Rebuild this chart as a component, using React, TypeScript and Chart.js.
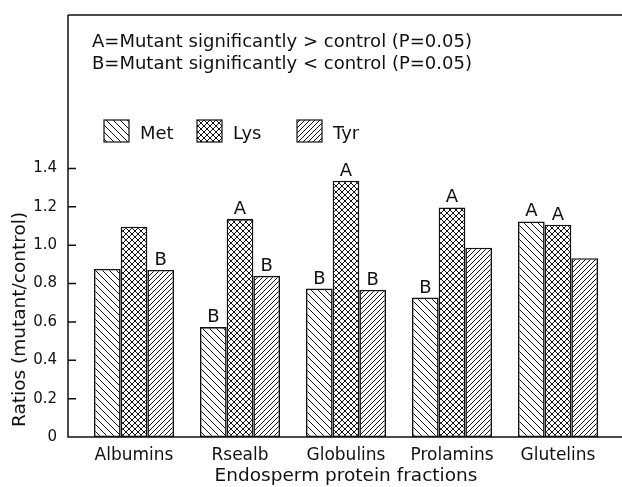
import React, { useEffect, useRef } from 'react';
import { Chart, registerables } from 'chart.js';

Chart.register(...registerables);

const categories = ['Albumins', 'Rsealb', 'Globulins', 'Prolamins', 'Glutelins'];
const seriesNames = ['Met', 'Lys', 'Tyr'];
const metValues = [0.876, 0.573, 0.774, 0.727, 1.124];
const lysValues = [1.096, 1.136, 1.336, 1.197, 1.107];
const tyrValues = [0.871, 0.84, 0.767, 0.987, 0.932];
const metMarks = ['', 'B', 'B', 'B', 'A'];
const lysMarks = ['', 'A', 'A', 'A', 'A'];
const tyrMarks = ['B', 'B', 'B', '', ''];
const yTickValues = [0, 0.2, 0.4, 0.6, 0.8, 1.0, 1.2, 1.4];
const noteLines = [
  'A=Mutant significantly > control (P=0.05)',
  'B=Mutant significantly < control (P=0.05)',
];
const xTitle = 'Endosperm protein fractions';
const yTitle = 'Ratios (mutant/control)';

const FONT = "'DejaVu Sans', 'Liberation Sans', sans-serif";

function makePattern(kind: 'back' | 'fwd' | 'cross', s: number): CanvasPattern | string {
  const c = document.createElement('canvas');
  c.width = s;
  c.height = s;
  const g = c.getContext('2d');
  if (!g) return '#fff';
  g.fillStyle = '#fff';
  g.fillRect(0, 0, s, s);
  g.strokeStyle = '#111';
  g.lineWidth = 1;
  g.beginPath();
  for (let k = -1; k <= 1; k++) {
    if (kind === 'back' || kind === 'cross') {
      g.moveTo(0, k * s);
      g.lineTo(s, s + k * s);
    }
    if (kind === 'fwd' || kind === 'cross') {
      g.moveTo(0, s + k * s);
      g.lineTo(s, k * s);
    }
  }
  g.stroke();
  const p = g.createPattern(c, 'repeat');
  return p || '#fff';
}

export default function App() {
  const ref = useRef<HTMLCanvasElement | null>(null);

  useEffect(() => {
    document.body.style.margin = '0';
    const canvas = ref.current;
    if (!canvas) return;
    const patterns = [makePattern('back', 7), makePattern('cross', 6), makePattern('fwd', 5)];
    const values = [metValues, lysValues, tyrValues];
    const marks = [metMarks, lysMarks, tyrMarks];

    const overlay = {
      id: 'overlay',
      afterDraw(chart: any) {
        const { ctx, chartArea } = chart;
        const yScale = chart.scales.y;
        const axX = chartArea.left - 13;
        const top = chartArea.top;
        const base = yScale.getPixelForValue(0);
        const right = chart.width;
        ctx.save();
        ctx.strokeStyle = '#111';
        ctx.lineWidth = 1.5;
        ctx.beginPath();
        ctx.moveTo(axX, top);
        ctx.lineTo(right, top);
        ctx.moveTo(axX, top);
        ctx.lineTo(axX, base);
        ctx.lineTo(right, base);
        for (const v of yTickValues) {
          const py = yScale.getPixelForValue(v);
          ctx.moveTo(axX, py);
          ctx.lineTo(axX + 8, py);
        }
        ctx.stroke();

        // significance marks
        ctx.fillStyle = '#111';
        ctx.font = `18px ${FONT}`;
        ctx.textAlign = 'center';
        ctx.textBaseline = 'alphabetic';
        chart.data.datasets.forEach((_ds: any, i: number) => {
          const meta = chart.getDatasetMeta(i);
          meta.data.forEach((bar: any, j: number) => {
            const m = marks[i][j];
            if (!m) return;
            ctx.fillText(m, bar.x, bar.y - 5);
          });
        });

        // notes
        ctx.textAlign = 'left';
        ctx.font = `18px ${FONT}`;
        noteLines.forEach((t, k) => {
          ctx.fillText(t, axX + 24, top + 32 + k * 22);
        });

        // legend
        const legX = [axX + 36, axX + 129, axX + 229];
        const boxTop = top + 105;
        seriesNames.forEach((name, i) => {
          ctx.fillStyle = patterns[i] as any;
          ctx.fillRect(legX[i], boxTop, 25, 22);
          ctx.lineWidth = 1.2;
          ctx.strokeRect(legX[i], boxTop, 25, 22);
          ctx.fillStyle = '#111';
          ctx.fillText(name, legX[i] + 36, boxTop + 19);
        });

        // y axis title
        ctx.save();
        ctx.translate(axX - 48, base - 10);
        ctx.rotate(-Math.PI / 2);
        ctx.textAlign = 'left';
        ctx.textBaseline = 'middle';
        ctx.font = `18.5px ${FONT}`;
        ctx.fillText(yTitle, 0, 0);
        ctx.restore();

        ctx.restore();
      },
    };

    const chart = new Chart(canvas, {
      type: 'bar',
      data: {
        labels: categories,
        datasets: seriesNames.map((name, i) => ({
          label: name,
          data: values[i],
          backgroundColor: patterns[i] as any,
          borderColor: '#111',
          borderWidth: 1.6,
          borderSkipped: false,
          barPercentage: 1,
          categoryPercentage: 0.755,
        })),
      },
      options: {
        responsive: true,
        maintainAspectRatio: false,
        animation: false,
        layout: { padding: { top: 15, right: 11, left: 0, bottom: 0 } },
        plugins: {
          legend: { display: false },
          tooltip: { enabled: false },
        },
        scales: {
          x: {
            grid: { display: false, drawTicks: false },
            border: { display: false },
            ticks: { color: '#111', font: { family: FONT, size: 17 }, padding: 8 },
            title: {
              display: true,
              text: xTitle,
              color: '#111',
              font: { family: FONT, size: 18.5 },
              padding: { top: 0, bottom: 0 },
            },
            afterFit(scale: any) {
              scale.height = 50;
            },
          },
          y: {
            min: 0,
            max: 2.2,
            grid: { display: false, drawTicks: false },
            border: { display: false },
            ticks: {
              stepSize: 0.2,
              color: '#111',
              font: { family: FONT, size: 15 },
              padding: 24,
              callback: (v: any) => (Number(v) === 0 ? '0' : Number(v).toFixed(1)),
            },
            afterBuildTicks(scale: any) {
              scale.ticks = yTickValues.map((v) => ({ value: v }));
            },
            title: { display: false },
            afterFit(scale: any) {
              scale.width = 81;
              scale.paddingTop = 0;
              scale.paddingBottom = 0;
            },
          },
        },
      },
      plugins: [overlay],
    });
    return () => chart.destroy();
  }, []);

  return (
    <div style={{ width: 622, height: 487, position: 'relative', background: '#fff' }}>
      <canvas ref={ref} />
    </div>
  );
}
